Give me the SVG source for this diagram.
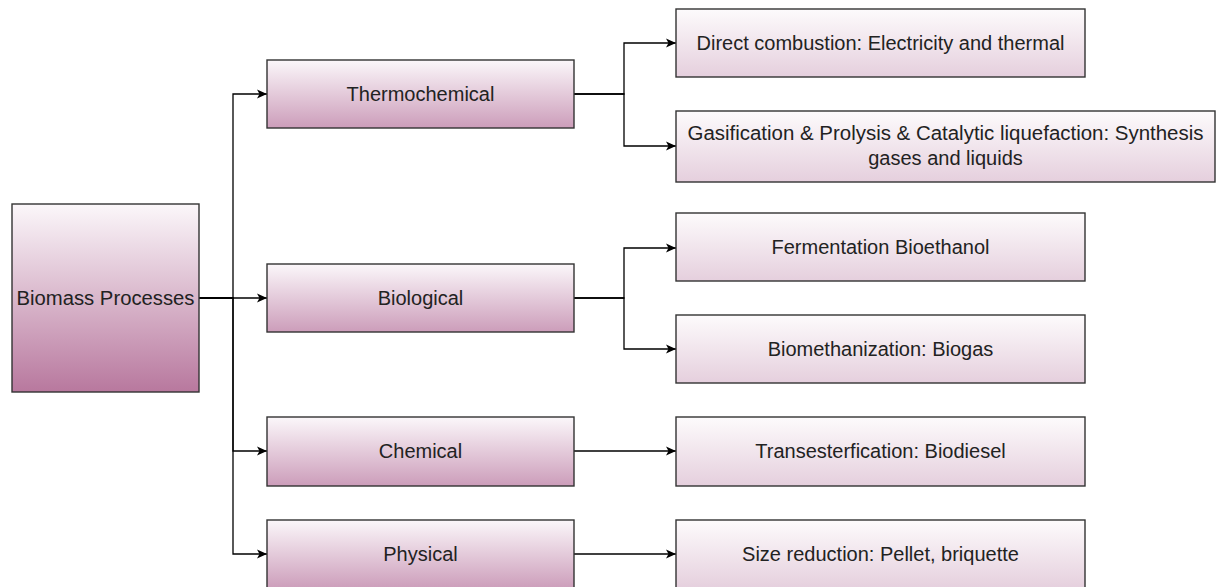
<svg xmlns="http://www.w3.org/2000/svg" width="1219" height="587" viewBox="0 0 1219 587">
<defs>
<linearGradient id="gMain" x1="0" y1="0" x2="0" y2="1"><stop offset="0" stop-color="#fbf7fa"/><stop offset="1" stop-color="#b8789e"/></linearGradient>
<linearGradient id="gMid" x1="0" y1="0" x2="0" y2="1"><stop offset="0" stop-color="#fbf7fa"/><stop offset="1" stop-color="#cc9dba"/></linearGradient>
<linearGradient id="gOut" x1="0" y1="0" x2="0" y2="1"><stop offset="0" stop-color="#fdfbfc"/><stop offset="1" stop-color="#e5cfdd"/></linearGradient>
<marker id="arr" markerUnits="userSpaceOnUse" markerWidth="11" markerHeight="10" refX="10" refY="5" orient="auto"><path d="M0,0.5 L10,5 L0,9.5 L2.5,5 Z" fill="#000"/></marker>
<style>
.box{stroke:#333;stroke-width:1.4}
.main{fill:url(#gMain)}
.mid{fill:url(#gMid)}
.out{fill:url(#gOut)}
text{font-family:"Liberation Sans",Arial,sans-serif;font-size:20px;fill:#222;text-anchor:middle;dominant-baseline:central}
.edge{fill:none;stroke:#000;stroke-width:1.3;marker-end:url(#arr)}
</style>
</defs>
<g id="connectors">
<path class="edge" d="M199,298 H267"/>
<path class="edge" d="M199,298 H233 V94 H267"/>
<path class="edge" d="M199,298 H233 V451 H267"/>
<path class="edge" d="M199,298 H233 V554 H267"/>
<path class="edge" d="M574,94 H624 V43 H676"/>
<path class="edge" d="M574,94 H624 V146 H676"/>
<path class="edge" d="M574,298 H624 V248 H676"/>
<path class="edge" d="M574,298 H624 V349 H676"/>
<path class="edge" d="M574,451 H676"/>
<path class="edge" d="M574,554 H676"/>
</g>
<g id="biomass"><rect class="box main" x="12" y="204" width="187" height="188"/><text x="105.5" y="298" textLength="178" lengthAdjust="spacingAndGlyphs">Biomass Processes</text></g>
<g id="thermochemical"><rect class="box mid" x="267" y="60" width="307" height="68"/><text x="420.5" y="94">Thermochemical</text></g>
<g id="biological"><rect class="box mid" x="267" y="264" width="307" height="68"/><text x="420.5" y="298">Biological</text></g>
<g id="chemical"><rect class="box mid" x="267" y="417" width="307" height="69"/><text x="420.5" y="451">Chemical</text></g>
<g id="physical"><rect class="box mid" x="267" y="520" width="307" height="69"/><text x="420.5" y="554">Physical</text></g>
<g id="direct"><rect class="box out" x="676" y="9" width="409" height="68"/><text x="880.5" y="43">Direct combustion: Electricity and thermal</text></g>
<g id="gasification"><rect class="box out" x="676" y="111" width="539" height="71"/><text x="945.5" y="133" textLength="516" lengthAdjust="spacingAndGlyphs">Gasification &amp; Prolysis &amp; Catalytic liquefaction: Synthesis</text><text x="945.5" y="158">gases and liquids</text></g>
<g id="fermentation"><rect class="box out" x="676" y="213" width="409" height="68"/><text x="880.5" y="247">Fermentation Bioethanol</text></g>
<g id="biomethanization"><rect class="box out" x="676" y="315" width="409" height="68"/><text x="880.5" y="349">Biomethanization: Biogas</text></g>
<g id="transesterfication"><rect class="box out" x="676" y="417" width="409" height="69"/><text x="880.5" y="451">Transesterfication: Biodiesel</text></g>
<g id="sizereduction"><rect class="box out" x="676" y="520" width="409" height="69"/><text x="880.5" y="554">Size reduction: Pellet, briquette</text></g>
</svg>
